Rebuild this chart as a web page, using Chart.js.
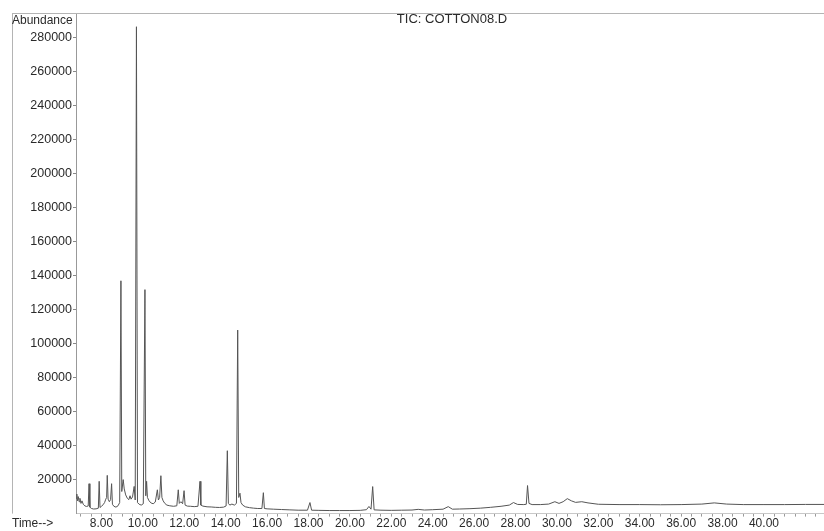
<!DOCTYPE html>
<html>
<head>
<meta charset="utf-8">
<script src="https://cdn.jsdelivr.net/npm/chart.js@4/dist/chart.umd.min.js"></script>
<style>
  html, body { margin: 0; padding: 0; background: #fff; }
  #wrap { width: 824px; height: 531px; position: relative; }
</style>
</head>
<body>
<div id="wrap"><canvas id="tic"></canvas></div>
<script>
// Total ion chromatogram, run COTTON08.D
const retentionTime = [
  6.77, 6.81, 6.84, 6.88, 6.92, 6.96, 7.01, 7.06, 7.12, 7.20, 7.28, 7.36, 7.40, 7.44, 7.52, 7.62, 7.74, 7.85, 7.89, 7.93,
  8.00, 8.08, 8.15, 8.21, 8.25, 8.28, 8.32, 8.38, 8.44, 8.49, 8.53, 8.60, 8.70, 8.80, 8.88, 8.94, 8.98, 9.05, 9.10, 9.17,
  9.25, 9.32, 9.38, 9.43, 9.50, 9.58, 9.63, 9.69, 9.74, 9.82, 9.92, 10.02, 10.10, 10.14, 10.18, 10.22, 10.30, 10.40, 10.50, 10.60,
  10.70, 10.75, 10.81, 10.87, 10.92, 10.98, 11.06, 11.16, 11.30, 11.48, 11.64, 11.71, 11.76, 11.84, 11.92, 11.99, 12.04, 12.15, 12.30, 12.48,
  12.66, 12.76, 12.80, 12.90, 13.10, 13.30, 13.50, 13.70, 13.90, 14.02, 14.08, 14.13, 14.20, 14.30, 14.42, 14.52, 14.58, 14.63, 14.69, 14.74,
  14.82, 14.95, 15.15, 15.35, 15.55, 15.75, 15.82, 15.87, 16.00, 16.30, 16.70, 17.10, 17.50, 17.95, 18.07, 18.15, 18.50, 19.00, 19.50, 20.00,
  20.50, 20.80, 20.92, 21.02, 21.10, 21.17, 21.50, 22.00, 22.50, 23.00, 23.30, 23.60, 24.00, 24.50, 24.75, 24.95, 25.30, 25.80, 26.30, 26.80,
  27.30, 27.70, 27.90, 28.10, 28.40, 28.52, 28.58, 28.65, 28.80, 29.20, 29.60, 29.90, 30.10, 30.30, 30.50, 30.70, 30.90, 31.20, 31.50, 32.00,
  33.00, 34.00, 35.00, 36.00, 37.00, 37.60, 38.20, 39.00, 40.00, 41.00, 42.00, 42.90
];
const abundance = [
  9000, 11500, 7500, 10000, 7000, 9000, 6000, 7500, 5500, 4500, 4200, 4500, 17600, 3800, 3000, 2700, 2800, 3200, 19000, 3600,
  4300, 5200, 6500, 8500, 9500, 22500, 8500, 7000, 8200, 17600, 5500, 4300, 3800, 4600, 6500, 137000, 13000, 20000, 14500, 11000,
  9000, 8200, 10500, 8500, 9800, 16000, 8000, 286500, 6500, 5500, 5000, 5800, 131800, 10500, 19000, 9500, 7500, 6200, 5800, 6800,
  14000, 8000, 9500, 22300, 9500, 7500, 6000, 5000, 4600, 4300, 4600, 14000, 6000, 7000, 5800, 13500, 5000, 4400, 4300, 4100,
  4300, 19000, 5000, 4400, 4000, 3900, 3700, 3600, 3800, 4500, 37000, 6000, 5000, 5600, 5000, 6000, 108000, 9500, 12000, 6500,
  5000, 4000, 3500, 3200, 3000, 3000, 12300, 3000, 2800, 2600, 2400, 2200, 2000, 2000, 6500, 2000, 1900, 1800, 1800, 1800,
  1900, 2300, 4200, 2600, 15900, 2200, 2000, 1900, 2000, 2100, 2500, 2100, 2300, 2600, 4100, 2600, 2700, 2900, 3200, 3700,
  4300, 5000, 6500, 5400, 5300, 5500, 16500, 6000, 5300, 5300, 5600, 7000, 6000, 7000, 8800, 7500, 6600, 7000, 6300, 5500,
  5300, 5300, 5200, 5300, 5600, 6300, 5600, 5300, 5300, 5300, 5400, 5400
];

// Axis ticks
const timeLabels = [8, 10, 12, 14, 16, 18, 20, 22, 24, 26, 28, 30, 32, 34, 36, 38, 40];
const timeMinorStep = 0.5;
const abundanceTicks = [20000, 40000, 60000, 80000, 100000, 120000, 140000, 160000, 180000, 200000, 220000, 240000, 260000, 280000];

const TIME_MIN = 6.77, TIME_MAX = 42.9;
const FONT = "'Liberation Sans', Arial, sans-serif";

const points = retentionTime.map((t, i) => ({ x: t, y: abundance[i] }));

// Page furniture: title, axis captions and the outer frame lines
const decorations = {
  id: 'decorations',
  afterDraw(chart) {
    const { ctx, chartArea } = chart;
    ctx.save();
    ctx.strokeStyle = '#b4b4b4';
    ctx.lineWidth = 1;
    ctx.beginPath();
    ctx.moveTo(12, chartArea.top - 0.5);
    ctx.lineTo(chart.width, chartArea.top - 0.5);
    ctx.moveTo(12.5, chartArea.top - 1);
    ctx.lineTo(12.5, chartArea.bottom);
    ctx.stroke();

    ctx.fillStyle = '#2a2a2a';
    ctx.textBaseline = 'middle';
    ctx.font = '13px ' + FONT;
    ctx.textAlign = 'center';
    ctx.fillText('TIC: COTTON08.D', 452, chartArea.top + 5.5);

    ctx.font = '12px ' + FONT;
    ctx.textAlign = 'left';
    ctx.fillText('Abundance', 12, chartArea.top + 6.5);
    ctx.fillText('Time-->', 12, 523.5);
    ctx.restore();
  }
};

new Chart(document.getElementById('tic'), {
  type: 'line',
  data: {
    datasets: [{
      data: points,
      borderColor: '#555',
      borderWidth: 1,
      pointRadius: 0,
      tension: 0,
      fill: false
    }]
  },
  options: {
    responsive: true,
    maintainAspectRatio: false,
    animation: false,
    layout: { padding: { top: 14, right: 0, bottom: 0, left: 0 } },
    plugins: { legend: { display: false }, tooltip: { enabled: false }, title: { display: false } },
    scales: {
      x: {
        type: 'linear',
        min: TIME_MIN,
        max: TIME_MAX,
        afterBuildTicks(scale) {
          const ticks = [];
          const first = Math.ceil(TIME_MIN / timeMinorStep) * timeMinorStep;
          for (let v = first; v <= TIME_MAX + 1e-9; v += timeMinorStep) {
            ticks.push({ value: Math.round(v * 100) / 100 });
          }
          scale.ticks = ticks;
        },
        ticks: {
          autoSkip: false,
          minRotation: 0,
          maxRotation: 0,
          padding: 0,
          color: '#2a2a2a',
          font: { family: FONT, size: 12 },
          callback(value) {
            return timeLabels.includes(value) ? value.toFixed(2) : '';
          }
        },
        grid: { display: true, drawOnChartArea: false, drawTicks: true, tickLength: 3, color: '#9a9a9a' },
        border: { display: true, color: '#c8c8c8', width: 1 }
      },
      y: {
        type: 'linear',
        min: 0,
        max: 294000,
        afterBuildTicks(scale) {
          scale.ticks = abundanceTicks.map(v => ({ value: v }));
        },
        afterFit(scale) { scale.width = 76; },
        ticks: {
          autoSkip: false,
          padding: 1,
          color: '#2a2a2a',
          font: { family: FONT, size: 12.5 },
          callback(value) { return String(value); }
        },
        grid: { display: true, drawOnChartArea: false, drawTicks: true, tickLength: 3, color: '#888' },
        border: { display: true, color: '#999', width: 1 }
      }
    }
  },
  plugins: [decorations]
});
</script>
</body>
</html>
